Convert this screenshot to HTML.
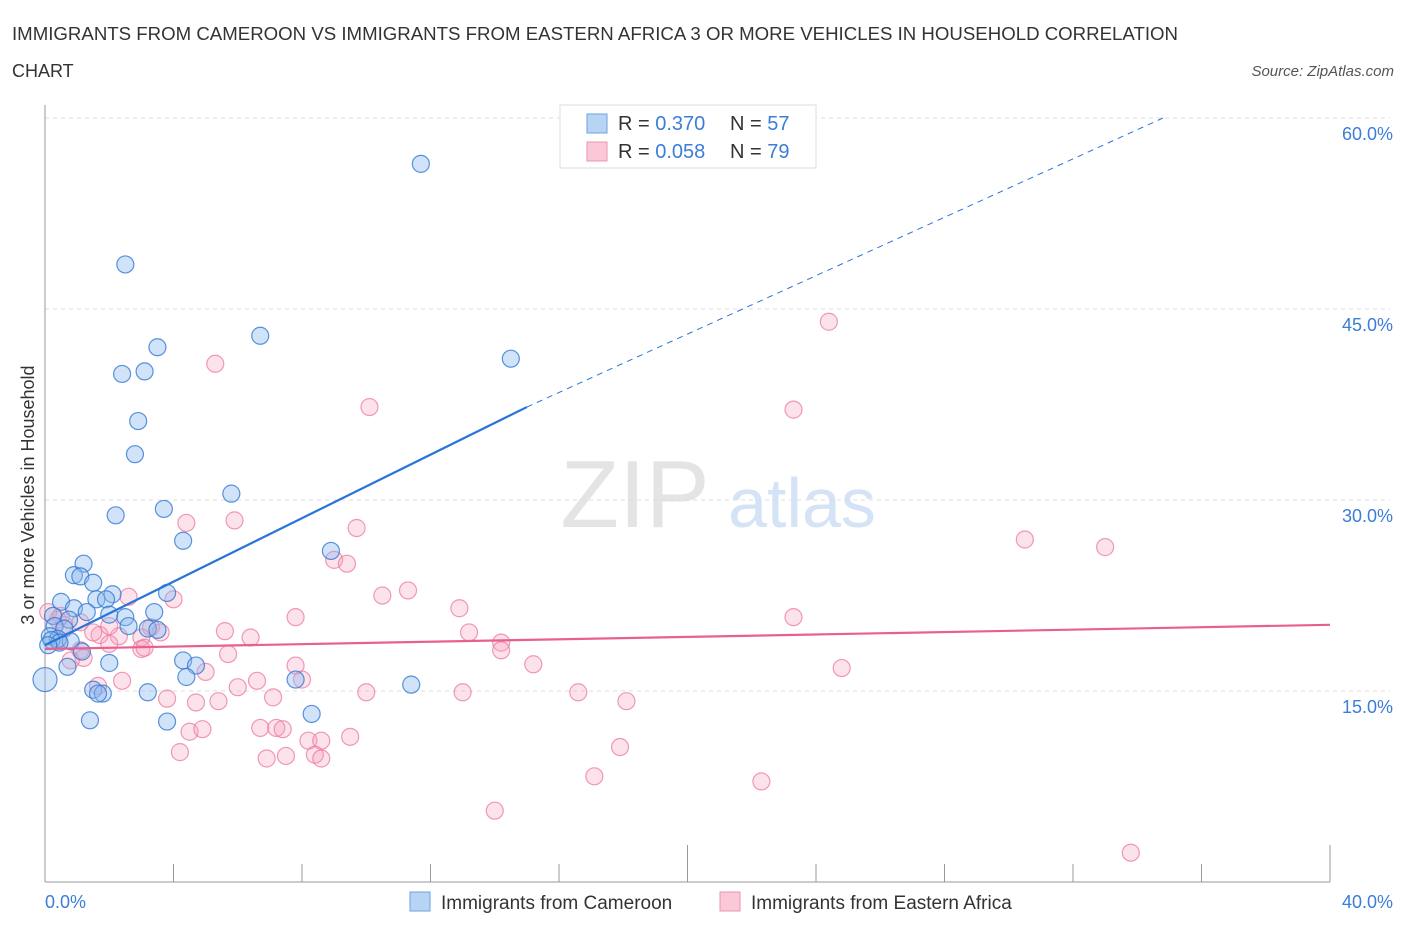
<!DOCTYPE html>
<html><head><meta charset="utf-8"><style>
body{margin:0;background:#fff;font-family:"Liberation Sans",sans-serif;}
svg text{font-family:"Liberation Sans",sans-serif;}
</style></head><body>
<svg id="chart" width="1406" height="930" xmlns="http://www.w3.org/2000/svg">
<text x="12" y="40" font-size="18" fill="#333" textLength="1166" lengthAdjust="spacingAndGlyphs">IMMIGRANTS FROM CAMEROON VS IMMIGRANTS FROM EASTERN AFRICA 3 OR MORE VEHICLES IN HOUSEHOLD CORRELATION</text>
<text x="12" y="77" font-size="18" fill="#333">CHART</text>
<text x="1394" y="76" font-size="15" fill="#555" font-style="italic" text-anchor="end">Source: ZipAtlas.com</text>
<text x="635" y="527" font-size="96" fill="#e4e4e4" font-family="Liberation Serif" text-anchor="middle">ZIP</text>
<text x="802" y="527" font-size="70" fill="#d4e3f5" text-anchor="middle">atlas</text>
<g id="grid"></g>
<g id="axes"></g>
<g id="pts"></g>
<g id="lines"></g>
<text transform="translate(34,495) rotate(-90)" font-size="18" fill="#333" text-anchor="middle">3 or more Vehicles in Household</text>
<text x="45" y="908" font-size="18" fill="#3b7dd8">0.0%</text>
<text x="1393" y="908" font-size="18" fill="#3b7dd8" text-anchor="end">40.0%</text>
<g>
<rect x="560" y="105" width="256" height="63" fill="#fff" stroke="#ddd"/>
<rect x="587" y="114" width="20" height="19" fill="#b8d4f5" stroke="#6ea0e0"/>
<rect x="587" y="142" width="20" height="19" fill="#fbc8d8" stroke="#ee93b0"/>
<text x="618" y="130" font-size="20" fill="#333">R = <tspan fill="#3b7dd8">0.370</tspan><tspan x="730">N = </tspan><tspan fill="#3b7dd8">57</tspan></text>
<text x="618" y="158" font-size="20" fill="#333">R = <tspan fill="#3b7dd8">0.058</tspan><tspan x="730">N = </tspan><tspan fill="#3b7dd8">79</tspan></text>
</g>
<g>
<rect x="410" y="892" width="20" height="19" fill="#b8d4f5" stroke="#6ea0e0"/>
<text x="441" y="909" font-size="19" fill="#333">Immigrants from Cameroon</text>
<rect x="720" y="892" width="20" height="19" fill="#fbc8d8" stroke="#ee93b0"/>
<text x="751" y="909" font-size="19" fill="#333">Immigrants from Eastern Africa</text>
</g>
</svg>
<script>
const yTicks=[15,30,45,60];
const blueX=[11.7,2.5,6.7,3.5,14.5,2.4,3.1,2.9,2.8,5.8,2.2,3.7,4.3,8.9,1.2,0.9,1.1,1.5,2.1,3.8,1.6,1.9,0.5,0.9,1.3,2.0,2.5,3.4,0.25,0.75,2.6,3.2,0.3,0.6,3.5,0.15,0.4,0.8,0.2,0.45,0.0,1.15,2.0,0.7,4.3,4.7,4.4,7.8,11.4,1.5,3.2,1.8,1.65,1.4,3.8,8.3,0.1];
const blueY=[56.4,48.5,42.9,42.0,41.1,39.9,40.1,36.2,33.6,30.5,28.8,29.3,26.8,26.0,25.0,24.1,24.0,23.5,22.6,22.7,22.2,22.2,22.0,21.5,21.2,21.0,20.8,21.2,20.9,20.6,20.1,19.9,20.1,19.9,19.8,19.3,19.1,18.9,19.0,18.8,15.9,18.1,17.2,16.9,17.4,17.0,16.1,15.9,15.5,15.1,14.9,14.8,14.8,12.7,12.6,13.2,18.6];
const pinkX=[24.4,5.3,10.1,23.3,30.5,33.0,4.4,5.9,9.7,9.0,9.4,11.3,10.5,4.0,2.6,12.9,23.3,3.3,5.6,6.4,7.8,13.2,14.2,14.2,15.2,24.8,3.6,1.7,2.3,3.0,2.0,0.4,0.6,1.1,1.2,0.8,2.4,1.65,1.5,5.7,5.0,7.8,8.0,6.0,6.6,7.1,10.0,13.0,16.6,18.1,3.8,4.7,5.4,4.5,4.9,6.7,7.2,7.4,8.2,8.6,9.5,4.2,6.9,7.5,8.4,8.6,17.9,17.1,22.3,14.0,33.8,0.1,0.4,3.0,2.0,1.1,0.5,3.1];
const pinkY=[44.0,40.7,37.3,37.1,26.9,26.3,28.2,28.4,27.8,25.3,25.0,22.9,22.5,22.2,22.4,21.5,20.8,20.0,19.7,19.2,20.8,19.6,18.8,18.2,17.1,16.8,19.6,19.4,19.3,19.2,18.7,20.6,20.2,18.2,17.6,17.4,15.8,15.4,19.6,17.9,16.5,17.0,15.9,15.3,15.8,14.5,14.9,14.9,14.9,14.2,14.4,14.1,14.2,11.8,12.0,12.1,12.1,12.0,11.1,11.1,11.4,10.2,9.7,9.9,10.0,9.7,10.6,8.3,7.9,5.6,2.3,21.2,19.0,18.3,20.1,20.4,20.9,18.4];
const blueFit=[18.6,0.0],blueFitEnd=[15,37.3],blueDashEnd=[34.8,60];
const pinkFit=[0,18.3],pinkFitEnd=[40,20.2];
const X=v=>45+v*32.125, Y=v=>882-v*12.733;
const NS='http://www.w3.org/2000/svg';
function mk(tag,attrs,parent){const e=document.createElementNS(NS,tag);for(const k in attrs)e.setAttribute(k,attrs[k]);document.getElementById(parent).appendChild(e);return e;}
yTicks.forEach(t=>{
  const l=mk('line',{x1:45,x2:1390,y1:Y(t),y2:Y(t),stroke:'#ddd','stroke-dasharray':'4,4'},'grid');
  
  
  const tx=mk('text',{x:1393,y:Y(t)+22,'font-size':18,fill:'#3b7dd8','text-anchor':'end'},'grid');
  tx.textContent=t.toFixed(1)+'%';
  
  
});
const ax=mk('line',{x1:45,x2:45,y1:105,y2:882,stroke:'#999'},'axes');


const bx=mk('line',{x1:45,x2:1330,y1:882,y2:882,stroke:'#999'},'axes');


for(let i=1;i<=10;i++){const v=i*4;
  const t=mk('line',{x1:X(v),x2:X(v),y1:882,y2:i%5==0?845:864,stroke:'#999'},'axes');
  
  
}
pinkX.forEach((x,i)=>{
  const c=mk('circle',{cx:X(x),cy:Y(pinkY[i]),r:8.5,fill:'rgba(246,160,190,0.3)',stroke:'rgba(236,120,160,0.75)','stroke-width':1.2},'pts');
  
  
});
blueX.forEach((x,i)=>{
  const c=mk('circle',{cx:X(x),cy:Y(blueY[i]),r:i==40?12:8.5,fill:'rgba(140,185,240,0.4)',stroke:'rgba(50,120,210,0.8)','stroke-width':1.2},'pts');
  
  
});
const b1=mk('line',{x1:X(0),y1:Y(blueFit[0]),x2:X(blueFitEnd[0]),y2:Y(blueFitEnd[1]),stroke:'#2a74d8','stroke-width':2.2},'lines');


const b2=mk('line',{x1:X(blueFitEnd[0]),y1:Y(blueFitEnd[1]),x2:X(blueDashEnd[0]),y2:Y(blueDashEnd[1]),stroke:'#2a74d8','stroke-width':1,'stroke-dasharray':'6,5'},'lines');


const p1=mk('line',{x1:X(pinkFit[0]),y1:Y(pinkFit[1]),x2:X(pinkFitEnd[0]),y2:Y(pinkFitEnd[1]),stroke:'#e8608f','stroke-width':2.2},'lines');


</script>
</body></html>
